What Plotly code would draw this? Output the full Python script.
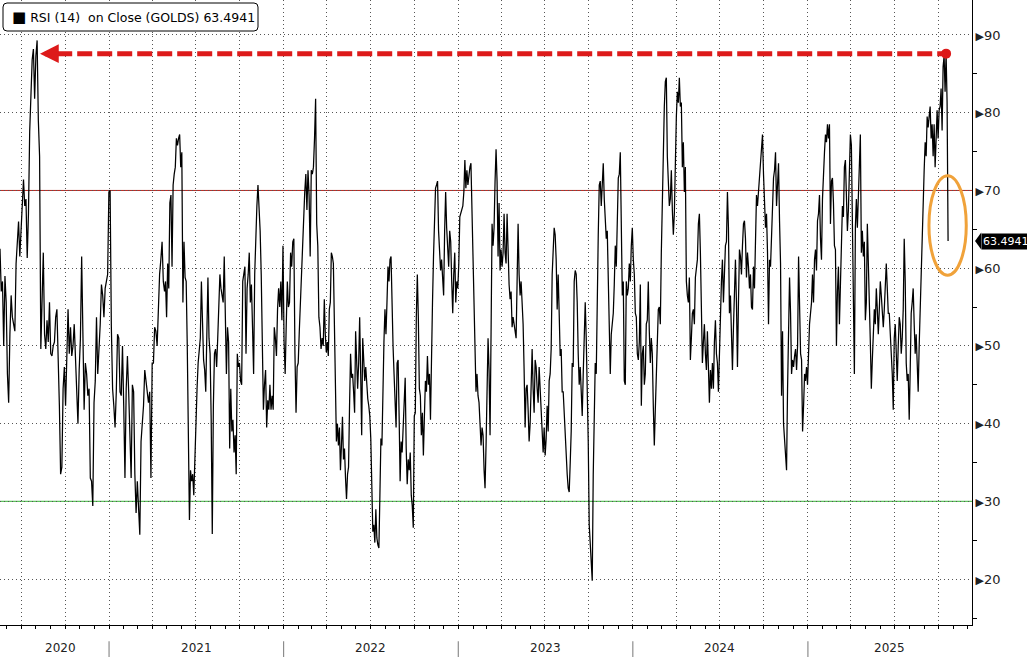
import pandas as pd
import plotly.graph_objects as go

# ---- RSI(14) of gold, in date segments ----
seg_dates = [
    ("2020-05-18", "2021-04-27"),
    ("2021-04-29", "2022-03-27"),
    ("2022-03-29", "2023-02-24"),
    ("2023-02-26", "2024-01-25"),
    ("2024-01-27", "2024-12-25"),
    ("2024-12-27", "2025-10-21"),
]

rsi_a = [62.5, 57, 58.3, 50, 59, 55.6, 46.4, 42.7, 51.5, 56.5, 53.7, 52.8, 51.9, 60.6, 63.8, 66, 61.5, 64.8,
         66.6, 71.4, 68, 68.9, 61.3, 67, 77.6, 81.3, 86.8, 88.2, 81.8, 87.3, 89.3, 79, 74.4, 49.6, 58.3, 62,
         51.5, 49.6, 53.3, 50.5, 55.6, 49, 48.7, 50, 50.5, 53.7, 54.7, 49, 42.3, 33.5, 34.4, 44.5, 47.3, 42.3,
         49.6, 54.7, 49, 52.4, 48.7, 50, 52.8, 48.2, 42.7, 40, 46.9, 51, 61.5, 49, 41.8, 47.8, 46.4, 43.6,
         44.5, 33, 32.6, 29.4, 42.7, 45.5, 53.7, 46.4, 49, 52.8, 57.9, 56.5, 53.7, 57.4, 58.3, 59.2, 69.8, 70,
         52.4, 44.5, 42.3, 39.5, 44.1, 51.5, 51, 44.1, 43.6, 50, 42.3, 33, 44.5, 48.7, 44.1, 37.7, 33, 45,
         44.1, 33.5, 28.5, 32.6, 29.4, 25.7, 37.7, 40, 42.3, 46.9, 45.5, 44.5, 42.7, 44.1, 33, 47.8, 47.8,
         52.4, 51.9, 50, 55.6, 59.2, 61.1, 63.4, 58.3, 57]

rsi_b = [58.3, 53.7, 60.6, 57.4, 68.4, 69.4, 60.2, 70.7, 72.1, 73, 76.7, 75.8, 76.7, 77.2, 73, 74.9, 55.6,
         63.4, 58.8, 58.3, 50, 40, 27.6, 34, 32.6, 33.5, 30.8, 35.4, 41.8, 44.5, 47.8, 50, 51, 58.3, 53.7,
         48.2, 46.9, 44.1, 51.5, 58.8, 51, 49, 40.5, 25.8, 42.3, 49, 49.6, 47.3, 51, 56, 59.2, 57.4, 56.5,
         55.6, 61.5, 51.9, 46.4, 52.4, 50.5, 36.8, 44.5, 39, 40.5, 36.3, 38.5, 33.5, 49, 47.3, 47.8, 45.5,
         45, 58.3, 59.2, 60.2, 49, 57.4, 59.2, 62, 55.6, 57.9, 52.4, 46.4, 59.2, 64.8, 68, 70.7, 67.5, 64.8,
         59.2, 46.4, 41.8, 45, 46.9, 39.5, 43, 41.8, 45, 41.8, 43.6, 41.8, 52.4, 51, 48.7, 54.7, 57.4, 55,
         58.3, 53.3, 62.9, 50.5, 46.4, 52.8, 58.3, 55, 55.6, 62, 60.2, 63.4, 63.8, 49, 41.4, 47.3, 47.8, 51.9,
         55.6, 59.7, 63.8, 68.4, 69.8, 72.1, 67.5, 72.6, 69.4, 61.5, 72.6, 72.1, 73, 76.7, 81.8, 65.7, 62.9,
         53.7, 52.4, 49.6, 51, 50, 56]

rsi_c = [51.5, 49.2, 50.5, 48.7, 54.7, 55.6, 62, 61.5, 60.6, 53.7, 49, 37.7, 40, 37.2, 39.5, 34, 37.2, 40.9,
         35.4, 36.8, 33, 30.3, 33.5, 34.4, 42.3, 49, 45.9, 46.4, 44.1, 41.4, 51.9, 47.3, 44.5, 47.8, 53.7,
         46.4, 38.5, 51, 48.7, 45.5, 47.3, 44.1, 43.2, 42.3, 41, 38.1, 31.2, 26.1, 27, 24.7, 29, 25.3, 24.4,
         24, 30.8, 38.1, 37.2, 45.5, 50.5, 54.7, 51.5, 55.6, 60.2, 58.3, 61.1, 61.5, 53.7, 50, 46.4, 42.3,
         39.5, 47.8, 48.2, 41, 32.6, 37.7, 36.3, 39.5, 42.7, 45.9, 36.8, 32.2, 35.4, 34, 36.3, 30.8, 29.4,
         26.6, 41, 41.4, 53.7, 59.2, 53.7, 44.5, 43.6, 38.5, 41.4, 35.9, 41, 45.5, 44.1, 48.7, 45, 46.4,
         40.5, 50.5, 55.6, 61.5, 65.2, 70.3, 70.7, 71.2, 64.8, 62, 59.7, 61.1, 58.3, 56.5, 64.8, 69.8, 65.2,
         62, 60.2, 64.8, 63.4, 58.3, 54.2, 59.2, 62, 55.6, 58.3, 57.4, 60.6, 66.6, 67, 67.5, 68, 69.8, 73.9,
         70.3, 72.6, 70.7, 72.1, 73, 73.5, 68.4, 63.8, 55.6, 50, 44.1, 46.4, 43.6, 42.7, 40, 37.2, 39.5,
         38.5, 34]

rsi_d = [31.7, 37.2, 42.3, 51, 46.9, 38.5, 51.5, 65.7, 62.9, 65.2, 71.2, 75.3, 71.2, 61.5, 68.4, 59.7, 62.4,
         60.2, 62, 67, 62, 60.6, 67, 62, 57.9, 56, 57, 52.4, 53.7, 52.8, 51.9, 51, 58.3, 65.7, 59.2, 56.5,
         58.3, 55.6, 52.8, 46.9, 39.5, 44.5, 45, 41.8, 37.7, 40, 43.6, 49.6, 44.5, 41.4, 48.2, 47.3, 44.5,
         42.7, 47.3, 44.5, 42.3, 40, 36.3, 39.5, 35.9, 38.1, 42.3, 39, 45.5, 46.4, 49.6, 59.2, 61.5, 65.2,
         64.3, 61.1, 54.7, 59.2, 54.2, 48.7, 49.6, 44.1, 44.1, 41, 38.1, 36.8, 33.5, 31.7, 31.2, 34.9, 39,
         47.8, 47.3, 58.3, 59.7, 59.2, 55.6, 49, 45, 47.3, 45, 41, 46.4, 52.8, 55.6, 51, 45.5, 37.7, 27, 24.7,
         21.6, 19.8, 33.5, 44.5, 47.8, 46.4, 60.6, 64.3, 70.7, 71.2, 68, 71.2, 73.5, 68.9, 66.6, 63.8, 64.8,
         58.3, 51, 46.4, 51.5, 52.8, 54.2, 57.9, 62.9, 60.2, 64.8, 71.6, 72.1, 74.9, 65.7, 56.5, 58.3, 45.5,
         45, 58.3, 56.5, 57.4, 60.6, 58.3, 62.9, 65.2, 61.1, 59.2, 54.2, 53.7, 49, 48.2, 50.5, 57.9, 42.3,
         49, 50, 45]

rsi_e = [46.4, 52.8, 53.3, 58.3, 51.9, 47.8, 51, 49, 42.3, 37.2, 41.8, 46.4, 50.5, 54.7, 55, 52.8, 62, 70.3,
         78.5, 80.8, 84, 84.5, 74.4, 71.2, 68, 68.9, 72.6, 67.5, 64.3, 67, 76.2, 79.5, 82.7, 81.3, 84.5,
         80.8, 81.3, 73, 76.2, 69.8, 73, 58.3, 56.5, 55.6, 58.8, 48.2, 51, 54.2, 54.7, 52.8, 58.8, 60.2,
         61.1, 65.7, 67, 62, 55.6, 47.8, 50.5, 52.8, 49, 46.9, 51.9, 46.4, 42.7, 46.9, 44.5, 47.8, 44.5,
         50.5, 53.3, 49, 47.8, 44.1, 50, 54.7, 58.3, 61.1, 55.6, 59.2, 62.9, 63.4, 69.8, 65.2, 54.2, 56.5,
         52.4, 46.9, 52.4, 55.6, 61.1, 55.6, 47.3, 55.6, 62.4, 61.5, 59.2, 62.9, 65.7, 66.1, 63.8, 58.8, 62,
         60.2, 57.4, 59.2, 55, 54.7, 60.2, 57.4, 63.4, 69.4, 68, 69.8, 72.6, 74.4, 75.8, 77.2, 72.1, 68,
         65.2, 67, 62, 52.8, 61.1, 60.2, 64.8, 68.4, 71.6, 72.6, 74.9, 68, 71.2, 73.5, 66.1, 60.6, 43.6,
         51.9, 40, 38.1, 35.9, 34, 44.5, 50, 58.8, 54.2, 46.4, 48.2, 47.3, 48.7, 49.6, 46.9, 50, 61.5, 54.7,
         49, 48.2, 39, 42.3, 46.4]

rsi_f = [45.5, 47.3, 45, 50, 52.8, 54.2, 55.6, 59.2, 55.6, 61.1, 62.4, 59.7, 66.1, 67, 69.4, 63.8, 61.1,
         68.9, 73, 74.9, 77.2, 76.2, 78.5, 76.7, 78.5, 65.7, 71.2, 71.6, 68.4, 62.9, 62.4, 50, 57, 60.2,
         52.8, 59.2, 64.8, 68, 66.6, 73, 73.9, 66.6, 64.8, 67.5, 72.1, 77.2, 75.8, 62.9, 57, 46.4, 65.2,
         68.9, 65.2, 69.4, 74.9, 77.2, 62, 64.8, 61.5, 63.4, 53.3, 55.6, 65.7, 58.8, 55.6, 50.5, 44.5, 48.2,
         51.5, 54.7, 52.8, 57.4, 54.7, 51.5, 54.7, 58.3, 56.5, 53.7, 52.4, 54.7, 57.9, 60.6, 57.4, 54.2,
         54.2, 51.9, 48.2, 46.4, 41.8, 51, 52.8, 49, 45.5, 50, 53.7, 52.8, 49, 51, 54.7, 63.8, 58.3, 47.8,
         45.5, 46.4, 40.5, 46.9, 54.2, 55.6, 57.4, 52.8, 49, 51.5, 47.3, 44.1, 50, 55, 58.3, 65.2, 69.8,
         72.6, 76.2, 74.4, 79.5, 78.1, 79.5, 80.8, 76.7, 78.5, 74.4, 78.5, 73, 76.7, 80.3, 76.7, 80.3, 80.8,
         83.1, 77.7, 85.9, 87.3, 82.7, 87.6, 81.3, 63.4941]

segments = [rsi_a, rsi_b, rsi_c, rsi_d, rsi_e, rsi_f]

y_tick_values = [20, 30, 40, 50, 60, 70, 80, 90]
year_labels = ["2020", "2021", "2022", "2023", "2024", "2025"]
year_label_dates = ["2020-09-21", "2021-07-02", "2022-07-02", "2023-07-02", "2024-07-01", "2025-06-21"]
year_starts = ["2021-01-01", "2022-01-01", "2023-01-01", "2024-01-01", "2025-01-01"]
overbought, oversold = 70, 30
legend_text = "RSI (14)\u00a0\u00a0on Close (GOLDS) 63.4941"

# ---- build series ----
dates, vals = [], []
for (s, e), v in zip(seg_dates, segments):
    dates.extend(pd.date_range(s, e, periods=len(v)))
    vals.extend(v)
last_date, last_val = dates[-1], vals[-1]

n_f = len(rsi_f)
f_dates = dates[-n_f:]
peak_i = max(range(n_f), key=lambda i: rsi_f[i])
peak_date, peak_val = f_dates[peak_i], rsi_f[peak_i]

n_a = len(rsi_a)
a_peak_i = max(range(n_a), key=lambda i: rsi_a[i])
tip_date = dates[a_peak_i] + pd.Timedelta(days=6)

FONT = "DejaVu Sans"
RED = "#dd1a1a"

fig = go.Figure()
fig.add_trace(go.Scatter(x=dates, y=vals, mode="lines",
                         line=dict(color="black", width=1.25), showlegend=False, hoverinfo="skip"))
fig.add_trace(go.Scatter(x=[peak_date], y=[peak_val], mode="markers",
                         marker=dict(color=RED, size=10), showlegend=False, hoverinfo="skip"))

shapes = []
# overbought / oversold lines
shapes.append(dict(type="line", xref="paper", x0=0, x1=1, yref="y", y0=overbought, y1=overbought,
                   line=dict(color="#b3241e", width=1), layer="between"))
shapes.append(dict(type="line", xref="paper", x0=0, x1=1, yref="y", y0=oversold, y1=oversold,
                   line=dict(color="#5cc45c", width=1.3), layer="between"))
# dashed red arrow shaft
shapes.append(dict(type="line", xref="x", yref="y",
                   x0=tip_date + pd.Timedelta(days=36), x1=peak_date, y0=peak_val, y1=peak_val,
                   line=dict(color=RED, width=5, dash="15px,5px"), layer="above"))
# orange ellipse around latest value
shapes.append(dict(type="circle", xref="x", yref="y",
                   x0=last_date - pd.Timedelta(days=40), x1=last_date + pd.Timedelta(days=38),
                   y0=59.1, y1=71.9, line=dict(color="#f0a23a", width=3), layer="above"))
# year separators under the axis
for ys in year_starts:
    shapes.append(dict(type="line", xref="x", yref="paper", x0=ys, x1=ys, y0=-0.026, y1=-0.052,
                       line=dict(color="#777777", width=1)))
# last value tag pointer
shapes.append(dict(type="path", xref="paper", yref="y",
                   path=f"M 1.0031,{last_val} L 1.0095,{last_val + 1.1} L 1.0095,{last_val - 1.1} Z",
                   fillcolor="black", line=dict(width=0)))
# rounded legend frame
lx0, lx1, ly0, ly1, rr = 3 / 972, 258 / 972, 1 - 31 / 625, 1 - 3 / 625, 4
rx, ry = rr / 972, rr / 625
shapes.append(dict(type="path", xref="paper", yref="paper", layer="above",
                   path=(f"M {lx0 + rx},{ly1} L {lx1 - rx},{ly1} Q {lx1},{ly1} {lx1},{ly1 - ry} "
                         f"L {lx1},{ly0 + ry} Q {lx1},{ly0} {lx1 - rx},{ly0} L {lx0 + rx},{ly0} "
                         f"Q {lx0},{ly0} {lx0},{ly0 + ry} L {lx0},{ly1 - ry} Q {lx0},{ly1} {lx0 + rx},{ly1} Z"),
                   fillcolor="white", line=dict(color="black", width=1)))

annotations = []
# arrow head
annotations.append(dict(x=tip_date, y=peak_val, xref="x", yref="y", text="", showarrow=True,
                        arrowhead=2, arrowsize=0.75, arrowwidth=5, arrowcolor=RED,
                        ax=20, ay=0, axref="pixel", ayref="pixel", standoff=0))
# legend text
annotations.append(dict(x=10 / 972, y=1 - 17 / 625, xref="paper", yref="paper", xanchor="left",
                        yanchor="middle",
                        text="<span style='font-size:15px'>■</span> " + legend_text,
                        showarrow=False,
                        font=dict(family=FONT, size=12.5, color="black")))
# last value tag
annotations.append(dict(x=1.0093, y=last_val, xref="paper", yref="y", xanchor="left", yanchor="middle",
                        text=f"{last_val:.4f}", showarrow=False, bgcolor="black", borderpad=1,
                        font=dict(family=FONT, size=11, color="white")))
# year labels
for lab, d in zip(year_labels, year_label_dates):
    annotations.append(dict(x=d, y=-0.036, xref="x", yref="paper", text=lab, showarrow=False,
                            xanchor="center", yanchor="middle",
                            font=dict(family=FONT, size=12, color="#222222")))

fig.update_layout(
    width=1027, height=657,
    margin=dict(l=0, r=55, t=0, b=32),
    paper_bgcolor="white", plot_bgcolor="white",
    font=dict(family=FONT, size=12, color="#222222"),
    shapes=shapes, annotations=annotations, showlegend=False,
    xaxis=dict(type="date", range=["2020-05-18", "2025-12-10"],
               showgrid=True, gridcolor="#555555", gridwidth=1, griddash="1px,3px",
               dtick="M3", tick0="2020-01-01", ticks="outside", ticklen=3, tickcolor="black",
               showticklabels=False, showline=True, linecolor="black", linewidth=1, zeroline=False,
               minor=dict(dtick="M1", ticks="outside", ticklen=3, tickcolor="black", showgrid=False)),
    yaxis=dict(side="right", range=[14.1, 94.5],
               tickvals=y_tick_values,
               ticktext=[f"<span style='font-size:11px'>▶</span>{v}" for v in y_tick_values],
               ticks="", ticklabelstandoff=0,
               showgrid=True, gridcolor="#555555", gridwidth=1, griddash="1px,3px",
               showline=True, linecolor="black", linewidth=1, zeroline=False,
               tickfont=dict(family=FONT, size=13, color="#222222"),
               minor=dict(tickvals=[15, 25, 35, 45, 55, 65, 75, 85], ticks="outside", ticklen=4,
                          tickcolor="black", showgrid=False)),
)

fig.write_html("out.html", config={"displayModeBar": False},
               post_script="document.body.style.margin='0';document.body.style.padding='0';")
